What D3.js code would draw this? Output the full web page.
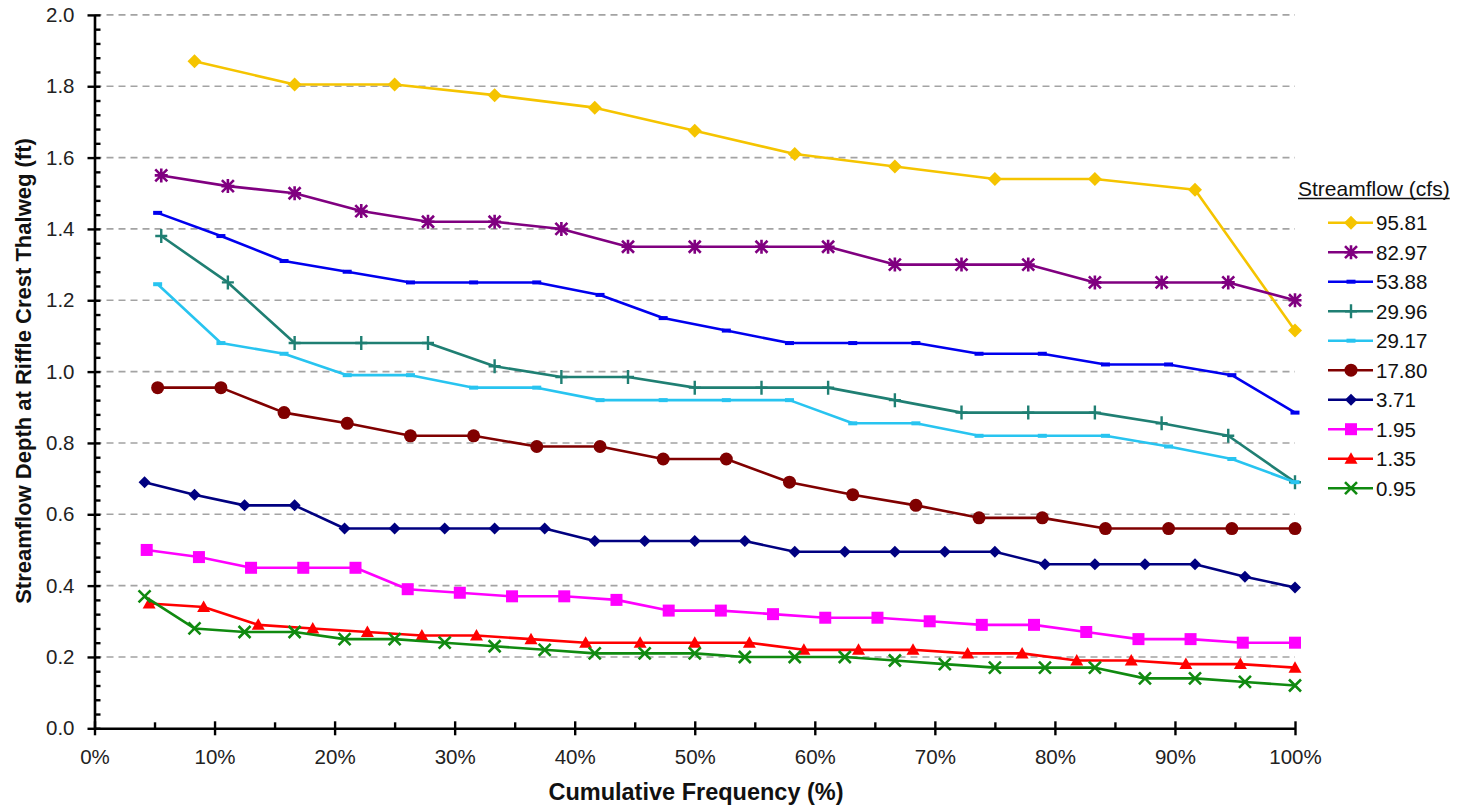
<!DOCTYPE html>
<html>
<head>
<meta charset="utf-8">
<script src="https://cdn.jsdelivr.net/npm/d3@7"></script>
<style>
  html, body { margin: 0; padding: 0; background: #ffffff; }
  svg { display: block; font-family: "Liberation Sans", Arial, sans-serif; }
</style>
</head>
<body>
<svg id="chart" width="1468" height="809"></svg>
<script>
// Cumulative frequency (%) of each ranked observation, by sample count
const freq12 = [8.33, 16.67, 25, 33.33, 41.67, 50, 58.33, 66.67, 75, 83.33, 91.67, 100];
const freq18 = [5.56, 11.11, 16.67, 22.22, 27.78, 33.33, 38.89, 44.44, 50, 55.56, 61.11, 66.67, 72.22, 77.78, 83.33, 88.89, 94.44, 100];
const freq19 = [5.26, 10.53, 15.79, 21.05, 26.32, 31.58, 36.84, 42.11, 47.37, 52.63, 57.89, 63.16, 68.42, 73.68, 78.95, 84.21, 89.47, 94.74, 100];
const freq22 = [4.55, 9.09, 13.64, 18.18, 22.73, 27.27, 31.82, 36.36, 40.91, 45.45, 50, 54.55, 59.09, 63.64, 68.18, 72.73, 77.27, 81.82, 86.36, 90.91, 95.45, 100];
const freq23 = [4.35, 8.70, 13.04, 17.39, 21.74, 26.09, 30.43, 34.78, 39.13, 43.48, 47.83, 52.17, 56.52, 60.87, 65.22, 69.57, 73.91, 78.26, 82.61, 86.96, 91.30, 95.65, 100];
const freq24 = [4.17, 8.33, 12.5, 16.67, 20.83, 25, 29.17, 33.33, 37.5, 41.67, 45.83, 50, 54.17, 58.33, 62.5, 66.67, 70.83, 75, 79.17, 83.33, 87.5, 91.67, 95.83, 100];

// Depth at riffle crest thalweg (ft), sorted high to low, for each streamflow
const depth9581 = [1.87, 1.805, 1.805, 1.775, 1.74, 1.675, 1.61, 1.575, 1.54, 1.54, 1.51, 1.115];
const depth8297 = [1.55, 1.52, 1.50, 1.45, 1.42, 1.42, 1.40, 1.35, 1.35, 1.35, 1.35, 1.30, 1.30, 1.30, 1.25, 1.25, 1.25, 1.20];
const depth5388 = [1.445, 1.38, 1.31, 1.28, 1.25, 1.25, 1.25, 1.215, 1.15, 1.115, 1.08, 1.08, 1.08, 1.05, 1.05, 1.02, 1.02, 0.99, 0.885];
const depth2996 = [1.38, 1.25, 1.08, 1.08, 1.08, 1.015, 0.985, 0.985, 0.955, 0.955, 0.955, 0.92, 0.885, 0.885, 0.885, 0.855, 0.82, 0.69];
const depth2917 = [1.245, 1.08, 1.05, 0.99, 0.99, 0.955, 0.955, 0.92, 0.92, 0.92, 0.92, 0.855, 0.855, 0.82, 0.82, 0.82, 0.79, 0.755, 0.69];
const depth1780 = [0.955, 0.955, 0.885, 0.855, 0.82, 0.82, 0.79, 0.79, 0.755, 0.755, 0.69, 0.655, 0.625, 0.59, 0.59, 0.56, 0.56, 0.56, 0.56];
const depth371  = [0.69, 0.655, 0.625, 0.625, 0.56, 0.56, 0.56, 0.56, 0.56, 0.525, 0.525, 0.525, 0.525, 0.495, 0.495, 0.495, 0.495, 0.495, 0.46, 0.46, 0.46, 0.46, 0.425, 0.395];
const depth195  = [0.50, 0.48, 0.45, 0.45, 0.45, 0.39, 0.38, 0.37, 0.37, 0.36, 0.33, 0.33, 0.32, 0.31, 0.31, 0.30, 0.29, 0.29, 0.27, 0.25, 0.25, 0.24, 0.24];
const depth135  = [0.35, 0.34, 0.29, 0.28, 0.27, 0.26, 0.26, 0.25, 0.24, 0.24, 0.24, 0.24, 0.22, 0.22, 0.22, 0.21, 0.21, 0.19, 0.19, 0.18, 0.18, 0.17];
const depth095  = [0.37, 0.28, 0.27, 0.27, 0.25, 0.25, 0.24, 0.23, 0.22, 0.21, 0.21, 0.21, 0.20, 0.20, 0.20, 0.19, 0.18, 0.17, 0.17, 0.17, 0.14, 0.14, 0.13, 0.12];

const flowLabels = ["95.81", "82.97", "53.88", "29.96", "29.17", "17.80", "3.71", "1.95", "1.35", "0.95"];
const yTickValues = [0, 0.2, 0.4, 0.6, 0.8, 1.0, 1.2, 1.4, 1.6, 1.8, 2.0];
const xTickValues = [0, 10, 20, 30, 40, 50, 60, 70, 80, 90, 100];

const seriesStyle = [
  { freq: freq12, depth: depth9581, color: "#f5c400", marker: "diamond" },
  { freq: freq18, depth: depth8297, color: "#800080", marker: "asterisk" },
  { freq: freq19, depth: depth5388, color: "#0000ee", marker: "dash" },
  { freq: freq18, depth: depth2996, color: "#1f7f73", marker: "plus" },
  { freq: freq19, depth: depth2917, color: "#28c4f0", marker: "dash" },
  { freq: freq19, depth: depth1780, color: "#800000", marker: "circle" },
  { freq: freq24, depth: depth371,  color: "#000080", marker: "diamondSmall" },
  { freq: freq23, depth: depth195,  color: "#ff00ff", marker: "square" },
  { freq: freq22, depth: depth135,  color: "#ff0000", marker: "triangle" },
  { freq: freq24, depth: depth095,  color: "#108a10", marker: "cross" }
];

const svg = d3.select("#chart");
const plotLeft = 94.5, plotRight = 1295, plotTop = 14.9, plotBottom = 728.3;

const x = d3.scaleLinear().domain([0, 100]).range([plotLeft, plotRight]);
const y = d3.scaleLinear().domain([0, 2]).range([plotBottom, plotTop]);

// Dashed horizontal gridlines
svg.append("g")
  .selectAll("line")
  .data(yTickValues.filter(v => v > 0))
  .join("line")
  .attr("x1", x(0)).attr("x2", x(100))
  .attr("y1", d => y(d)).attr("y2", d => y(d))
  .attr("stroke", "#a3a3a3")
  .attr("stroke-width", 1.6)
  .attr("stroke-dasharray", "7,5");

// Minor ticks (inside the plot)
const yMinor = d3.range(0, 2.0001, 0.04);
const xMinor = d3.range(5, 100, 10);

const yAxis = svg.append("g")
  .attr("transform", `translate(${plotLeft},0)`)
  .call(d3.axisLeft(y).tickValues(yTickValues).tickFormat(d3.format(".1f")).tickSizeOuter(0).tickPadding(14));
yAxis.selectAll(".tick line").attr("x1", 6).attr("x2", -7);

svg.append("g")
  .attr("transform", `translate(${plotLeft},0)`)
  .call(d3.axisRight(y).tickValues(yMinor.filter(v => Math.abs(Math.round(v * 5) - v * 5) > 1e-6)).tickFormat("").tickSize(6).tickSizeOuter(0))
  .call(g => g.select(".domain").remove());

const xAxis = svg.append("g")
  .attr("transform", `translate(0,${plotBottom})`)
  .call(d3.axisBottom(x).tickValues(xTickValues).tickFormat(d => d + "%").tickSizeOuter(0).tickPadding(14));
xAxis.selectAll(".tick line").attr("y1", -7).attr("y2", 7);

svg.append("g")
  .attr("transform", `translate(0,${plotBottom})`)
  .call(d3.axisTop(x).tickValues(xMinor).tickFormat("").tickSize(6).tickSizeOuter(0))
  .call(g => g.select(".domain").remove());

svg.selectAll(".domain").attr("stroke", "#000").attr("stroke-width", 2.6);
svg.selectAll(".tick line").attr("stroke", "#000").attr("stroke-width", 2.4);
svg.selectAll(".tick text")
  .attr("font-family", "'Liberation Sans', Arial, sans-serif")
  .attr("font-size", 20.5)
  .attr("fill", "#222");
xAxis.selectAll(".tick text").attr("dy", "0.75em");

// Axis titles
svg.append("text")
  .attr("x", 696)
  .attr("y", 800)
  .attr("text-anchor", "middle")
  .attr("font-size", 23.5)
  .attr("font-weight", "bold")
  .attr("fill", "#111")
  .text("Cumulative Frequency (%)");

svg.append("text")
  .attr("transform", "translate(31,371) rotate(-90)")
  .attr("text-anchor", "middle")
  .attr("font-size", 22)
  .attr("font-weight", "bold")
  .attr("fill", "#111")
  .text("Streamflow Depth at Riffle Crest Thalweg (ft)");

// Marker shapes
function drawMarker(g, type, color) {
  switch (type) {
    case "diamond":
      g.append("path").attr("d", "M0,-7L7,0L0,7L-7,0Z").attr("fill", color);
      break;
    case "diamondSmall":
      g.append("path").attr("d", "M0,-6L6,0L0,6L-6,0Z").attr("fill", color);
      break;
    case "circle":
      g.append("circle").attr("r", 6.5).attr("fill", color);
      break;
    case "square":
      g.append("rect").attr("x", -6).attr("y", -6).attr("width", 12).attr("height", 12).attr("fill", color);
      break;
    case "triangle":
      g.append("path").attr("d", "M0,-6.5L6.5,5L-6.5,5Z").attr("fill", color);
      break;
    case "dash":
      g.append("rect").attr("x", -4.5).attr("y", -2).attr("width", 9).attr("height", 4).attr("fill", color);
      break;
    case "plus":
      g.append("path").attr("d", "M0,-7V7M-6,0H6").attr("stroke", color).attr("stroke-width", 2.4).attr("fill", "none");
      break;
    case "cross":
      g.append("path").attr("d", "M-6,-6L6,6M-6,6L6,-6").attr("stroke", color).attr("stroke-width", 2.6).attr("fill", "none");
      break;
    case "asterisk":
      g.append("path").attr("d", "M-6,-6L6,6M-6,6L6,-6M0,-7V7M-6.5,0H6.5").attr("stroke", color).attr("stroke-width", 2.6).attr("fill", "none");
      break;
  }
}

const line = d3.line().x(d => x(d[0])).y(d => y(d[1]));

seriesStyle.forEach(s => {
  const pts = s.freq.map((f, i) => [f, s.depth[i]]);
  const g = svg.append("g");
  g.append("path")
    .datum(pts)
    .attr("d", line)
    .attr("fill", "none")
    .attr("stroke", s.color)
    .attr("stroke-width", 2.6)
    .attr("stroke-linejoin", "round");
  g.selectAll("g.mk")
    .data(pts)
    .join("g")
    .attr("class", "mk")
    .attr("transform", d => `translate(${x(d[0])},${y(d[1])})`)
    .each(function () { drawMarker(d3.select(this), s.marker, s.color); });
});

// Legend
const legend = svg.append("g").attr("transform", "translate(1298,0)");
const head = legend.append("text")
  .attr("x", 0).attr("y", 195.5)
  .attr("font-size", 21)
  .attr("fill", "#111")
  .text("Streamflow (cfs)");
const hw = head.node().getComputedTextLength();
legend.append("line")
  .attr("x1", 0).attr("x2", hw)
  .attr("y1", 198.5).attr("y2", 198.5)
  .attr("stroke", "#111").attr("stroke-width", 1.5);

flowLabels.forEach((lab, i) => {
  const cy = 222.7 + i * 29.5;
  const s = seriesStyle[i];
  const item = legend.append("g").attr("transform", `translate(0,${cy})`);
  item.append("line").attr("x1", 30).attr("x2", 75).attr("y1", 0).attr("y2", 0)
    .attr("stroke", s.color).attr("stroke-width", 2.6);
  const mk = item.append("g").attr("transform", "translate(53,0)");
  drawMarker(mk, s.marker, s.color);
  item.append("text")
    .attr("x", 78).attr("y", 7.5)
    .attr("font-size", 20.5)
    .attr("fill", "#111")
    .text(lab);
});
</script>
</body>
</html>
